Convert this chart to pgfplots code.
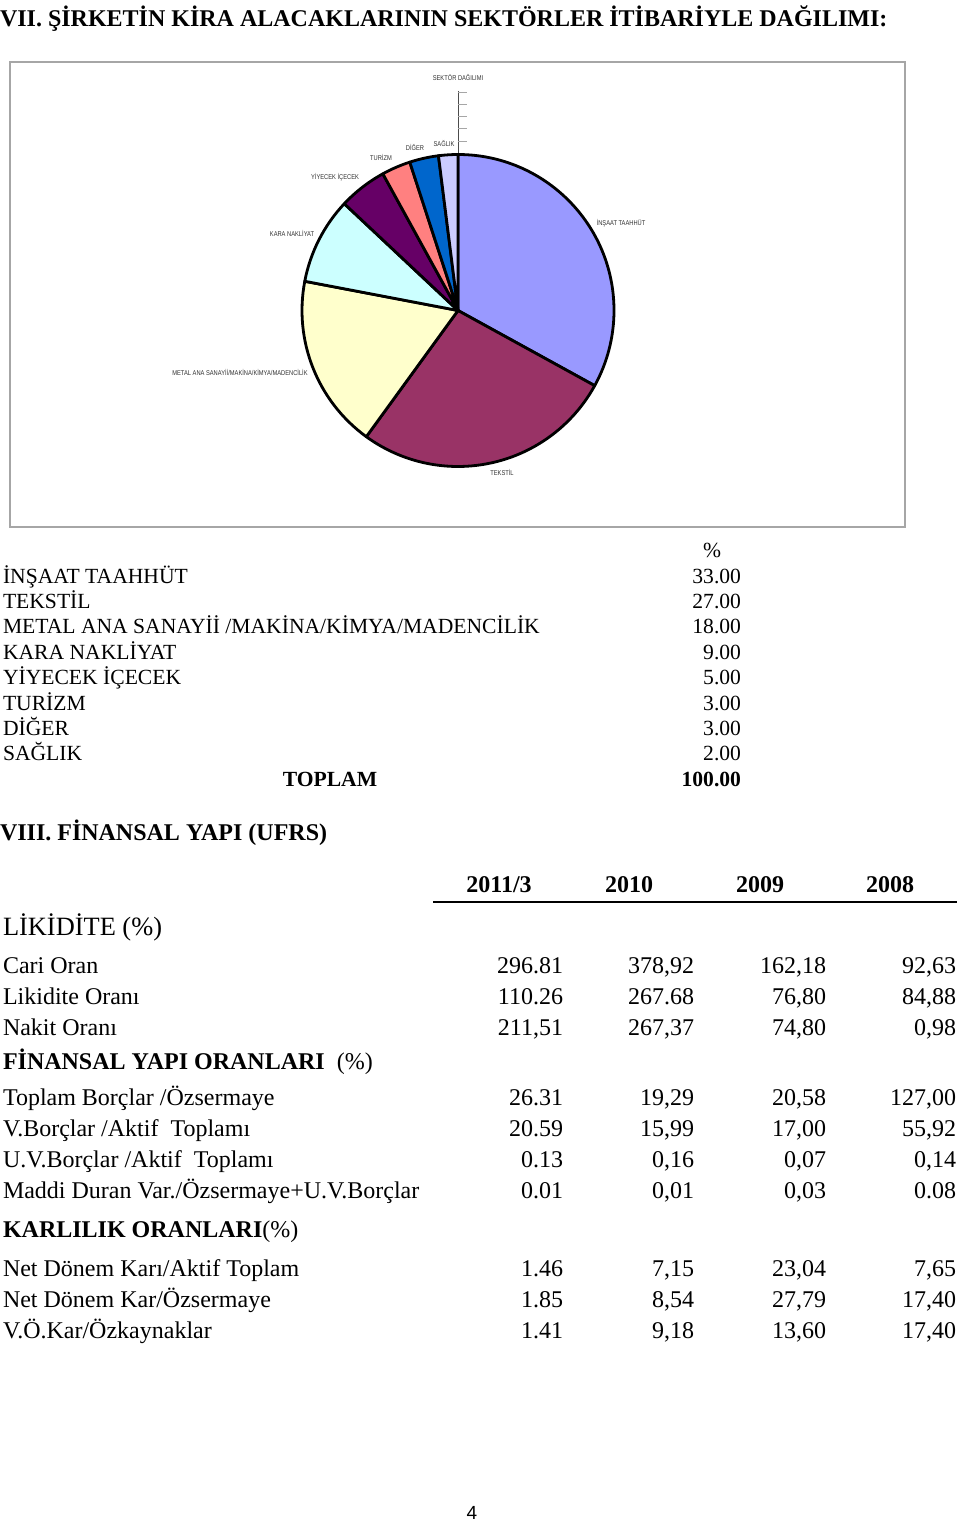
\documentclass[border=0pt]{standalone}
\usepackage{fontspec}
\setmainfont{Liberation Serif}
\newfontfamily\piesans[FakeStretch=0.82]{Liberation Sans}
\newfontfamily\pagesans{Liberation Sans}
\usepackage{pgfplots}
\pgfplotsset{compat=1.18}
\usepackage{pgfplotstable}

\definecolor{c1}{HTML}{9999FF}
\definecolor{c2}{HTML}{993366}
\definecolor{c3}{HTML}{FFFFCC}
\definecolor{c4}{HTML}{CCFFFF}
\definecolor{c5}{HTML}{660066}
\definecolor{c6}{HTML}{FF8080}
\definecolor{c7}{HTML}{0066CC}
\definecolor{c8}{HTML}{CCCCFF}
\definecolor{framegray}{HTML}{A6A6A6}
\definecolor{labgray}{HTML}{333333}

% sector shares (%), clockwise from 12 o'clock
\pgfplotstableread{
value color
33 c1
27 c2
18 c3
9  c4
5  c5
3  c6
3  c7
2  c8
}\pietable

\newcommand\fa{\fontsize{21.6}{25}\selectfont}
\newcommand\fb{\fontsize{24}{28}\selectfont}
\newcommand\fc{\fontsize{26.4}{30}\selectfont}
\newcommand\fp{\piesans\fontsize{7}{8}\selectfont}

\newcommand\rowA[3]{%
  \node[anchor=base west] at (3,#1) {\fa #2};
  \node[anchor=base east] at (741,#1) {\fa #3};}
\newcommand\rowB[6]{%
  \node[anchor=base west] at (3,#1) {\fb #2};
  \node[anchor=base east] at (563,#1) {\fb #3};
  \node[anchor=base east] at (694,#1) {\fb #4};
  \node[anchor=base east] at (826,#1) {\fb #5};
  \node[anchor=base east] at (956,#1) {\fb #6};}

\begin{document}
\begin{tikzpicture}[every node/.style={inner sep=0pt,outer sep=0pt}]
\begin{scope}[x=1pt,y=-1pt]
  \fill[white] (0,0) rectangle (960,1522);
  \useasboundingbox (0,0) rectangle (960,1522);
  % title
  \node[anchor=base west] at (0,27) {\fb\bfseries VII. ŞİRKETİN KİRA ALACAKLARININ SEKTÖRLER İTİBARİYLE DAĞILIMI:};
  % chart frame
  \draw[framegray,line width=2pt] (10,62) rectangle (905,527);
  \node[labgray] at (458,77) {\fp SEKTÖR DAĞILIMI};
  % leader scale above pie
  \draw[black!70,line width=0.9pt] (458,91) -- (458,156);
  \foreach \yy in {92,104,116,128,141}{\draw[gray!70,line width=0.8pt] (458,\yy) -- (467,\yy);}
  % pie labels
  \node[labgray] at (444,143) {\fp SAĞLIK};
  \node[labgray] at (415,147) {\fp DİĞER};
  \node[labgray] at (381,157) {\fp TURİZM};
  \node[labgray] at (335,177) {\fp YİYECEK İÇECEK};
  \node[labgray] at (292,233) {\fp KARA NAKLİYAT};
  \node[labgray] at (621,223) {\fp İNŞAAT TAAHHÜT};
  \node[labgray] at (240,372) {\fp METAL ANA SANAYİİ/MAKİNA/KİMYA/MADENCİLİK};
  \node[labgray] at (502,472) {\fp TEKSTİL};
\end{scope}

\begin{axis}[at={(458pt,-310.5pt)}, anchor=origin, scale only axis,
  width=312pt, height=312pt, xmin=-1, xmax=1, ymin=-1, ymax=1,
  hide axis, clip=false]
  \gdef\cum{0}
  \pgfplotsinvokeforeach{0,...,7}{%
    \pgfplotstablegetelem{#1}{value}\of\pietable \let\pval\pgfplotsretval
    \pgfplotstablegetelem{#1}{color}\of\pietable \let\pcol\pgfplotsretval
    \pgfmathsetmacro\sa{90-3.6*\cum}
    \pgfmathsetmacro\ea{90-3.6*(\cum+\pval)}
    \pgfmathsetmacro\newcum{\cum+\pval}
    \xdef\cum{\newcum}
    \edef\temp{\noexpand\filldraw[fill=\pcol,draw=black,line width=2.8pt,line join=round] (axis cs:0,0) -- ++(\sa:156pt) arc[start angle=\sa,end angle=\ea,radius=156pt] -- cycle;}
    \temp
  }
\end{axis}

\begin{scope}[x=1pt,y=-1pt]
  % table 1
  \node[anchor=base] at (712,557) {\fa\%};
  \rowA{583}{İNŞAAT TAAHHÜT}{33.00}
  \rowA{608.4}{TEKSTİL}{27.00}
  \rowA{633.8}{METAL ANA SANAYİİ /MAKİNA/KİMYA/MADENCİLİK}{18.00}
  \rowA{659.2}{KARA NAKLİYAT}{9.00}
  \rowA{684.6}{YİYECEK İÇECEK}{5.00}
  \rowA{710}{TURİZM}{3.00}
  \rowA{735.4}{DİĞER}{3.00}
  \rowA{760.8}{SAĞLIK}{2.00}
  \node[anchor=base] at (330,786.2) {\fa\bfseries TOPLAM};
  \node[anchor=base east] at (741,786.2) {\fa\bfseries 100.00};
  % section VIII
  \node[anchor=base west] at (0,840) {\fb\bfseries VIII. FİNANSAL YAPI (UFRS)};
  \node[anchor=base] at (499,892) {\fb\bfseries 2011/3};
  \node[anchor=base] at (629,892) {\fb\bfseries 2010};
  \node[anchor=base] at (760,892) {\fb\bfseries 2009};
  \node[anchor=base] at (890,892) {\fb\bfseries 2008};
  \draw[black,line width=1.6pt] (433,902) -- (957,902);
  \node[anchor=base west] at (3,935) {\fc LİKİDİTE (\%)};
  \rowB{973}{Cari Oran}{296.81}{378,92}{162,18}{92,63}
  \rowB{1004}{Likidite Oranı}{110.26}{267.68}{76,80}{84,88}
  \rowB{1035}{Nakit Oranı}{211,51}{267,37}{74,80}{0,98}
  \node[anchor=base west] at (3,1069) {\fb\textbf{FİNANSAL YAPI ORANLARI}\ \ (\%)};
  \rowB{1105}{Toplam Borçlar /Özsermaye}{26.31}{19,29}{20,58}{127,00}
  \rowB{1136}{V.Borçlar /Aktif\ \ Toplamı}{20.59}{15,99}{17,00}{55,92}
  \rowB{1167}{U.V.Borçlar /Aktif\ \ Toplamı}{0.13}{0,16}{0,07}{0,14}
  \rowB{1198}{Maddi Duran Var./Özsermaye+U.V.Borçlar}{0.01}{0,01}{0,03}{0.08}
  \node[anchor=base west] at (3,1237) {\fb\textbf{KARLILIK ORANLARI}(\%)};
  \rowB{1276}{Net Dönem Karı/Aktif Toplam}{1.46}{7,15}{23,04}{7,65}
  \rowB{1307}{Net Dönem Kar/Özsermaye}{1.85}{8,54}{27,79}{17,40}
  \rowB{1338}{V.Ö.Kar/Özkaynaklar}{1.41}{9,18}{13,60}{17,40}
  % page number
  \node[anchor=base] at (472,1519) {\pagesans\fontsize{19}{21}\selectfont 4};
\end{scope}
\end{tikzpicture}
\end{document}
